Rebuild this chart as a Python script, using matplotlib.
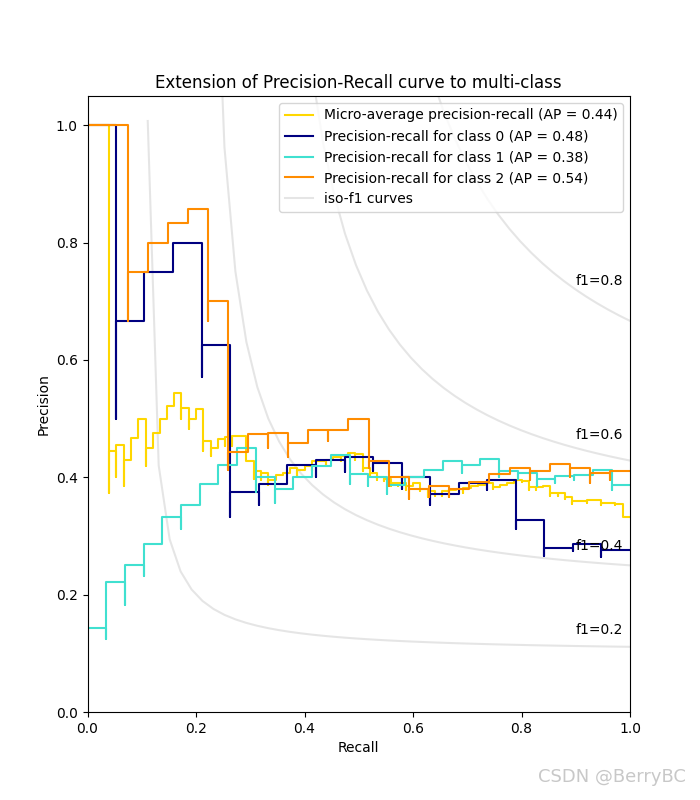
import matplotlib
matplotlib.use('Agg')
import matplotlib.pyplot as plt
import numpy as np

# precision / recall points, ordered by increasing recall
# (repeated recall values give the little downward spikes)
micro_recall = [0, 0.04, 0.04, 0.053, 0.053, 0.067, 0.067, 0.08, 0.093, 0.107, 0.107, 0.12,
                0.133, 0.147, 0.16, 0.173, 0.173, 0.187, 0.187, 0.2, 0.213, 0.213, 0.227, 0.227,
                0.24, 0.253, 0.253, 0.267, 0.267, 0.28, 0.293, 0.307, 0.307, 0.32, 0.32, 0.333,
                0.333, 0.347, 0.36, 0.373, 0.387, 0.387, 0.4, 0.413, 0.413, 0.427, 0.44, 0.44,
                0.453, 0.467, 0.467, 0.48, 0.493, 0.493, 0.507, 0.507, 0.52, 0.52, 0.533, 0.533,
                0.547, 0.547, 0.56, 0.56, 0.573, 0.573, 0.587, 0.587, 0.6, 0.613, 0.613, 0.627,
                0.627, 0.64, 0.64, 0.653, 0.653, 0.667, 0.68, 0.693, 0.693, 0.707, 0.72, 0.733,
                0.747, 0.747, 0.76, 0.773, 0.787, 0.8, 0.8, 0.813, 0.813, 0.827, 0.827, 0.84,
                0.853, 0.853, 0.867, 0.867, 0.88, 0.88, 0.893, 0.893, 0.907, 0.92, 0.92, 0.933,
                0.947, 0.947, 0.96, 0.973, 0.973, 0.987, 1.0]
micro_precision = [1.0, 1.0, 0.374, 0.445, 0.40, 0.455, 0.385, 0.429, 0.467, 0.50, 0.42, 0.45,
                   0.476, 0.50, 0.522, 0.543, 0.50, 0.519, 0.482, 0.50, 0.517, 0.445, 0.462, 0.436,
                   0.45, 0.465, 0.454, 0.468, 0.454, 0.47, 0.471, 0.428, 0.397, 0.41, 0.395, 0.407,
                   0.387, 0.396, 0.404, 0.407, 0.416, 0.40, 0.413, 0.42, 0.41, 0.427, 0.427, 0.42,
                   0.43, 0.435, 0.427, 0.437, 0.441, 0.43, 0.439, 0.41, 0.416, 0.403, 0.408, 0.396,
                   0.40, 0.393, 0.397, 0.386, 0.391, 0.386, 0.39, 0.379, 0.385, 0.391, 0.376, 0.38,
                   0.366, 0.376, 0.369, 0.372, 0.369, 0.376, 0.379, 0.38, 0.374, 0.382, 0.385, 0.387,
                   0.39, 0.38, 0.384, 0.387, 0.391, 0.396, 0.392, 0.394, 0.379, 0.383, 0.379, 0.383,
                   0.386, 0.368, 0.373, 0.369, 0.373, 0.363, 0.366, 0.355, 0.36, 0.36, 0.356, 0.361,
                   0.361, 0.352, 0.356, 0.357, 0.352, 0.355, 0.333]

c0_recall = [0, 0.0526, 0.0526, 0.105, 0.158, 0.211, 0.211, 0.263, 0.263, 0.316, 0.316, 0.368,
             0.421, 0.421, 0.474, 0.474, 0.526, 0.526, 0.579, 0.579, 0.632, 0.632, 0.684, 0.737,
             0.737, 0.789, 0.789, 0.842, 0.842, 0.895, 0.895, 0.947, 0.947, 1.0]
c0_precision = [1.0, 1.0, 0.5, 0.667, 0.75, 0.80, 0.571, 0.625, 0.333, 0.375, 0.353, 0.389,
                0.421, 0.40, 0.429, 0.409, 0.435, 0.41, 0.424, 0.38, 0.40, 0.353, 0.372, 0.39,
                0.378, 0.396, 0.312, 0.327, 0.266, 0.279, 0.275, 0.286, 0.265, 0.276]

c1_recall = [0, 0.0345, 0.0345, 0.069, 0.069, 0.1034, 0.1034, 0.138, 0.172, 0.172, 0.207, 0.241,
             0.276, 0.310, 0.310, 0.345, 0.345, 0.379, 0.414, 0.448, 0.483, 0.483, 0.517, 0.517,
             0.552, 0.552, 0.586, 0.621, 0.655, 0.690, 0.690, 0.724, 0.759, 0.759, 0.793, 0.793,
             0.828, 0.828, 0.862, 0.862, 0.897, 0.897, 0.931, 0.966, 0.966, 1.0]
c1_precision = [0.143, 0.143, 0.125, 0.222, 0.182, 0.25, 0.231, 0.286, 0.333, 0.3125, 0.353, 0.389,
                0.421, 0.45, 0.375, 0.40, 0.357, 0.38, 0.40, 0.42, 0.4375, 0.389, 0.405, 0.385,
                0.40, 0.372, 0.387, 0.40, 0.413, 0.427, 0.408, 0.421, 0.432, 0.40, 0.41, 0.397,
                0.407, 0.386, 0.398, 0.39, 0.403, 0.395, 0.4044, 0.413, 0.378, 0.387]

c2_recall = [0, 0.074, 0.074, 0.111, 0.148, 0.185, 0.222, 0.222, 0.259, 0.259, 0.296, 0.333,
             0.333, 0.370, 0.370, 0.407, 0.444, 0.444, 0.481, 0.519, 0.519, 0.556, 0.556, 0.593,
             0.593, 0.630, 0.630, 0.667, 0.667, 0.704, 0.741, 0.778, 0.815, 0.815, 0.852, 0.889,
             0.889, 0.926, 0.926, 0.963, 0.963, 1.0]
c2_precision = [1.0, 1.0, 0.667, 0.75, 0.80, 0.833, 0.857, 0.667, 0.70, 0.413, 0.444, 0.474,
                0.45, 0.476, 0.435, 0.458, 0.48, 0.4615, 0.48, 0.50, 0.416, 0.4286, 0.3845, 0.40,
                0.363, 0.38, 0.367, 0.3845, 0.367, 0.38, 0.392, 0.405, 0.4164, 0.395, 0.411, 0.422,
                0.40, 0.4164, 0.39, 0.407, 0.395, 0.41]

labels = ['Micro-average precision-recall (AP = 0.44)',
          'Precision-recall for class 0 (AP = 0.48)',
          'Precision-recall for class 1 (AP = 0.38)',
          'Precision-recall for class 2 (AP = 0.54)']
colors = ['gold', 'navy', 'turquoise', 'darkorange']
f_scores = [0.2, 0.4, 0.6, 0.8]

fig = plt.figure(figsize=(7, 8), dpi=100)
ax = fig.add_subplot(111)

lines = []
for f_score in f_scores:
    x = np.linspace(0.01, 1)
    y = f_score * x / (2 * x - f_score)
    l, = ax.plot(x[y >= 0], y[y >= 0], color='gray', alpha=0.2)
    ax.annotate('f1={0:0.1f}'.format(f_score), xy=(0.9, y[45] + 0.02))
iso_line = l

curves = [(micro_recall, micro_precision), (c0_recall, c0_precision),
          (c1_recall, c1_precision), (c2_recall, c2_precision)]
for (rec, prec), color in zip(curves, colors):
    l, = ax.step(rec, prec, where='pre', color=color, lw=1.5)
    lines.append(l)

ax.set_xlim([0.0, 1.0])
ax.set_ylim([0.0, 1.05])
ax.set_xlabel('Recall')
ax.set_ylabel('Precision')
ax.set_title('Extension of Precision-Recall curve to multi-class')
ax.legend(lines + [iso_line], labels + ['iso-f1 curves'], loc='upper right')

fig.text(0.98, 0.018, 'CSDN @BerryBC', ha='right', va='bottom', fontsize=13, color='#c8c8c8')

fig.savefig('out.png')
